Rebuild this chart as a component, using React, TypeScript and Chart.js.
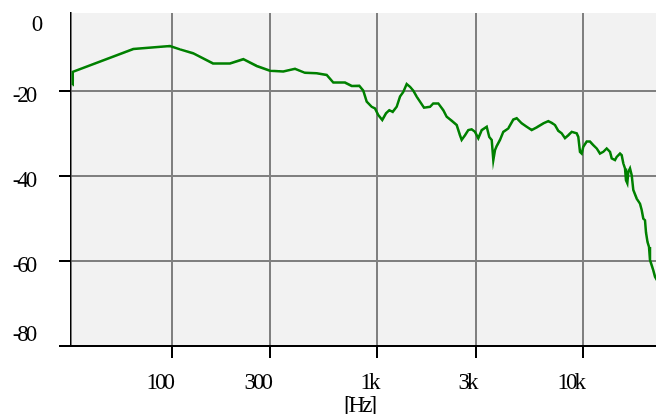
import React, { useEffect, useRef } from "react";
import { Chart, registerables } from "chart.js";

Chart.register(...registerables);

const freqs = [
  32.8, 32.9, 64.8, 97.8, 109.4, 126.5, 158.3, 191.5, 222.3, 258.4, 299.8, 348,
  396.8, 443.8, 506, 566, 609.5, 694.9, 748.8, 815.3, 852.7, 886,
  937.1, 972.3, 1009, 1055, 1100, 1141, 1186, 1240, 1287, 1335,
  1387, 1440, 1494, 1551, 1610, 1684, 1801, 1868, 1976, 2090,
  2171, 2297, 2429, 2520, 2568, 2666, 2766, 2873, 2982, 3094,
  3214, 3400, 3499, 3596, 3661, 3732, 3802, 3945, 4095, 4330,
  4579, 4757, 5031, 5321, 5628, 5953, 6411, 6779, 7043, 7309,
  7584, 7878, 8172, 8482, 8810, 9319, 9487, 9669, 9856, 10034,
  10423, 10816, 11222, 11659, 12094, 12554, 13043, 13537, 13797, 14314,
  14588, 15136, 15428, 15707, 16011, 16189, 16429, 16612, 16932, 17260,
  17572, 18252, 18940, 19302, 19652, 20032, 20259, 20602, 20951, 21185,
  21594, 21985, 22409, 22650,
];

const levels = [
  -18.6, -15.5, -10.1, -9.4, -10.2, -11.1, -13.5, -13.5, -12.5, -14.1, -15.2, -15.4,
  -14.75, -15.7, -15.8, -16.2, -18.0, -18.0, -18.8, -18.75, -19.9, -22.5,
  -23.7, -24.1, -25.65, -26.8, -25.25, -24.5, -24.9, -23.7, -21.3, -20.2,
  -18.35, -19.0, -19.9, -21.3, -22.5, -23.9, -23.7, -22.9, -22.9, -24.5,
  -26.05, -27.0, -28.0, -30.4, -31.5, -30.4, -29.2, -29.0, -29.6, -31.1,
  -29.2, -28.4, -30.8, -31.5, -36.25, -33.9, -32.95, -31.5, -29.6, -28.8,
  -26.7, -26.4, -27.6, -28.4, -29.2, -28.55, -27.6, -27.1, -27.5, -28.0,
  -29.35, -29.96, -31.1, -30.4, -29.6, -29.96, -30.8, -34.3, -34.7, -33.1,
  -31.9, -31.9, -32.7, -33.5, -34.7, -34.3, -33.5, -34.3, -35.85, -36.25,
  -35.5, -34.7, -35.1, -37.0, -38.2, -41.0, -41.7, -39.0, -38.2, -39.8,
  -43.3, -45.3, -46.5, -48.0, -50.0, -50.4, -53.3, -55.5, -56.7, -59.8,
  -61.0, -62.2, -63.7, -64.1,
];

const xTickValues = [100, 300, 1000, 3000, 10000];
const xTickLabels = ["100", "300", "1k", "3k", "10k"];
const yTickValues = [0, -20, -40, -60, -80];
const yTickLabels = ["0", "-20", "-40", "-60", "-80"];
const xAxisTitle = "[Hz]";

const X_MIN = 32.25;
const X_MAX = 22660;
const Y_MIN = -80;
const Y_MAX = -1.63;

const FONT = '23px "Liberation Serif", "Times New Roman", serif';

const bgPlugin = {
  id: "plotBg",
  beforeDraw(chart: any) {
    const { ctx, chartArea } = chart;
    ctx.save();
    ctx.fillStyle = "#f2f2f2";
    ctx.fillRect(chartArea.left, chartArea.top, chartArea.right - chartArea.left, chartArea.bottom - chartArea.top);
    ctx.restore();
  },
};

const labelPlugin = {
  id: "condensedLabels",
  afterDraw(chart: any) {
    const { ctx, chartArea } = chart;
    const xs = chart.scales.x;
    const ys = chart.scales.y;
    ctx.save();
    ctx.font = FONT;
    ctx.fillStyle = "#000";
    ctx.textBaseline = "alphabetic";
    // y labels
    yTickValues.forEach((v, i) => {
      const txt = yTickLabels[i];
      const py = ys.getPixelForValue(v);
      const cy = Math.min(Math.max(py + 3.5, chartArea.top + 10), chartArea.bottom - 13);
      (ctx as any).letterSpacing = "0px";
      const wNormal = ctx.measureText(txt).width;
      (ctx as any).letterSpacing = "-3px";
      ctx.textAlign = "left";
      ctx.fillText(txt, 43.3 - wNormal, cy + 7.6);
    });
    // x labels
    (ctx as any).letterSpacing = "-3px";
    ctx.textAlign = "right";
    xTickValues.forEach((v, i) => {
      const px = xs.getPixelForValue(v);
      ctx.fillText(xTickLabels[i], px, chartArea.bottom + 43);
    });
    ctx.textAlign = "center";
    ctx.fillText(xAxisTitle, (chartArea.left + chartArea.right) / 2 - 4.5, chartArea.bottom + 66);
    ctx.restore();
  },
};

export default function App() {
  const canvasRef = useRef<HTMLCanvasElement | null>(null);

  useEffect(() => {
    if (!canvasRef.current) return;
    const data = freqs.map((f, i) => ({ x: f, y: levels[i] }));
    const chart = new Chart(canvasRef.current, {
      type: "line",
      data: {
        datasets: [
          {
            data,
            borderColor: "#008000",
            borderWidth: 2.5,
            pointRadius: 0,
            tension: 0,
            fill: false,
          },
        ],
      },
      options: {
        animation: false,
        responsive: true,
        maintainAspectRatio: false,
        parsing: false as any,
        layout: { padding: { left: 59, right: 0, top: 13, bottom: 56 } },
        plugins: { legend: { display: false }, tooltip: { enabled: false } },
        events: [],
        scales: {
          x: {
            type: "logarithmic",
            min: X_MIN,
            max: X_MAX,
            afterBuildTicks: (s: any) => {
              s.ticks = xTickValues.map((v) => ({ value: v }));
            },
            ticks: { display: false },
            grid: {
              color: "#808080",
              lineWidth: 2,
              drawTicks: true,
              tickLength: 12,
              tickColor: "#000",
              tickWidth: 2,
            },
            border: { color: "#000", width: 2 },
          },
          y: {
            type: "linear",
            min: Y_MIN,
            max: Y_MAX,
            afterBuildTicks: (s: any) => {
              s.ticks = yTickValues.filter((v) => v >= Y_MIN && v <= Y_MAX).map((v) => ({ value: v }));
            },
            ticks: { display: false },
            grid: {
              color: "#808080",
              lineWidth: 2,
              drawTicks: true,
              tickLength: 12,
              tickColor: "#000",
              tickWidth: 2,
            },
            border: { color: "#000", width: 1.5 },
          },
        },
      },
      plugins: [bgPlugin, labelPlugin],
    });
    return () => chart.destroy();
  }, []);

  return (
    <div style={{ position: "fixed", left: 0, top: 0, width: 656, height: 414, background: "#fff" }}>
      <canvas ref={canvasRef} />
    </div>
  );
}
